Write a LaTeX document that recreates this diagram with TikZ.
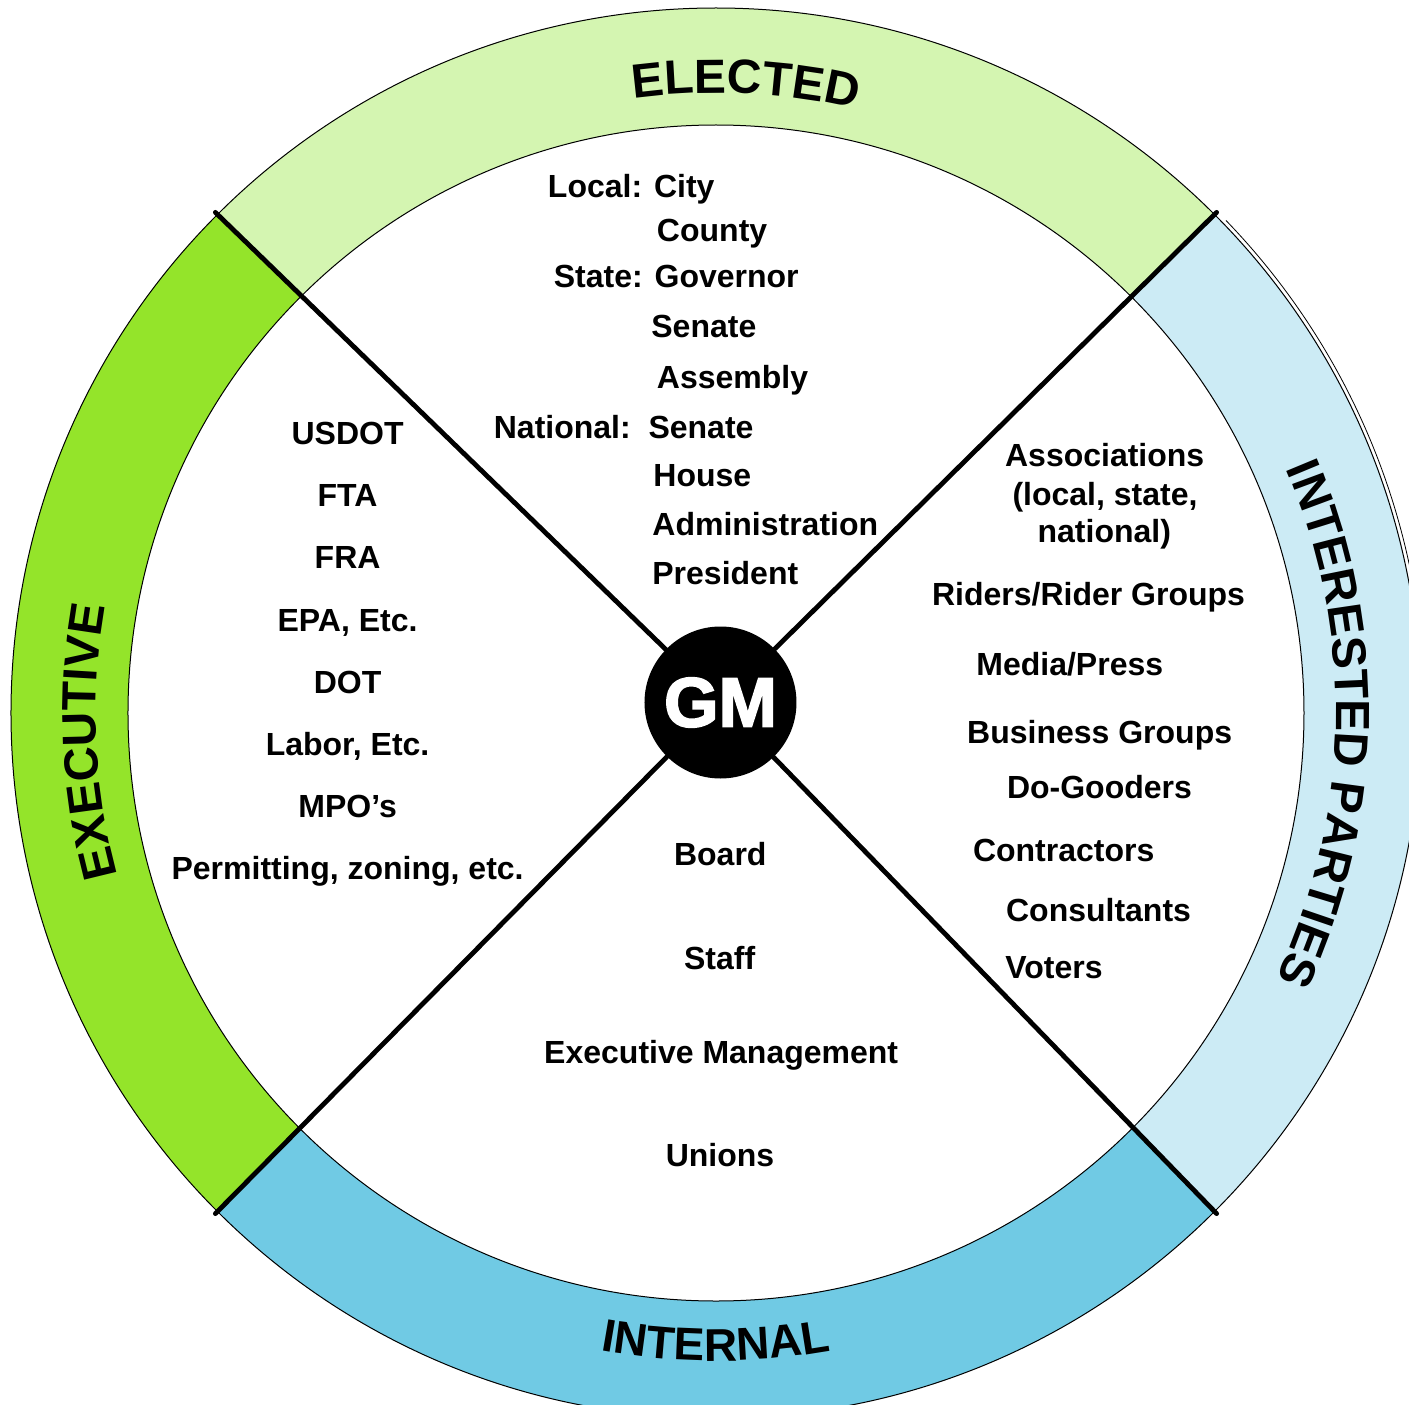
\documentclass[tikz,border=0pt]{standalone}
\usepackage{fontspec}
\setmainfont{Liberation Sans}
\newfontfamily\gmfont{Liberation Sans}[BoldFeatures={FakeBold=2.5}]
\usetikzlibrary{decorations.text}
\definecolor{electedc}{HTML}{D4F5B1}
\definecolor{executivec}{HTML}{94E42A}
\definecolor{internalc}{HTML}{70CAE4}
\definecolor{interestc}{HTML}{CCEBF5}
\newcommand{\bandfont}{\fontsize{24}{24}\selectfont\bfseries}
\newcommand{\bandfontb}{\fontsize{23}{23}\selectfont\bfseries}
\tikzset{
  lbl/.style={font=\fontsize{16}{18.5}\selectfont\bfseries, inner sep=0pt},
  ringline/.style={draw=black, line width=0.5pt},
  spoke/.style={line width=2.4pt, line cap=round},
  bandtext/.style={decorate, decoration={text along path, text align=center, text={#1}}},
}
\begin{document}
\begin{tikzpicture}[x=0.5pt,y=0.5pt]
\useasboundingbox (-716,-691) rectangle (693,713);
\clip (-716,-691) rectangle (693,713);
% bands
\fill[electedc] (45:705) arc[start angle=45,end angle=135,radius=705] -- (135:588) arc[start angle=135,end angle=45,radius=588] -- cycle;
\fill[executivec] (135:705) arc[start angle=135,end angle=225,radius=705] -- (225:588) arc[start angle=225,end angle=135,radius=588] -- cycle;
\fill[internalc] (225:705) arc[start angle=225,end angle=315,radius=705] -- (315:588) arc[start angle=315,end angle=225,radius=588] -- cycle;
\fill[interestc] (-45:705) arc[start angle=-45,end angle=45,radius=705] -- (45:588) arc[start angle=45,end angle=-45,radius=588] -- cycle;
\draw[ringline] (0,0) circle[radius=705];
\draw[ringline] (0,0) circle[radius=588];
\draw[line width=0.4pt] (44:709) arc[start angle=44,end angle=2,radius=709];
% band labels
\path[bandtext={|\bandfont|ELECTED}] (110:620) arc[start angle=110,end angle=64.6,radius=620];
\path[bandtext={|\bandfont|EXECUTIVE}] (207:620) arc[start angle=207,end angle=158.2,radius=620];
\path[bandtext={|\bandfont|INTERESTED PARTIES}] (44:620) arc[start angle=44,end angle=-46.2,radius=620];
\path[bandtext={|\bandfontb|INTERNAL}] (245:648) arc[start angle=245,end angle=295,radius=648];
% centre
\node[circle, fill=black, minimum size=76pt, inner sep=0pt, text=white,
      font=\gmfont\fontsize{35}{35}\selectfont\bfseries] (gm) at (4.5,10.5) {GM};
\coordinate (tl) at (135:708);
\coordinate (tr) at (45:708);
\coordinate (bl) at (225:708);
\coordinate (br) at (-45:708);
\draw[spoke] (gm) -- (tl);
\draw[spoke] (gm) -- (tr);
\draw[spoke] (gm) -- (bl);
\draw[spoke] (gm) -- (br);
% elected
\node[lbl, anchor=base west] (e1) at (-168.4,515.6) {Local: City};
\node[lbl, anchor=base west] (e2) at (-59.4,471) {County};
\node[lbl, anchor=base west] (e3) at (-162.5,425) {State: Governor};
\node[lbl, anchor=base west] (e4) at (-65,375) {Senate};
\node[lbl, anchor=base west] (e5) at (-59.4,325) {Assembly};
\node[lbl, anchor=base west] (e6) at (-222.5,274.5) {National:\ \ Senate};
\node[lbl, anchor=base west] (e7) at (-63,226.3) {House};
\node[lbl, anchor=base west] (e8) at (-64,178) {Administration};
\node[lbl, anchor=base west] (e9) at (-64,129) {President};
% executive
\node[lbl, anchor=base] (x1) at (-368.4,269) {USDOT};
\node[lbl, anchor=base] (x2) at (-368.4,207) {FTA};
\node[lbl, anchor=base] (x3) at (-368.4,145) {FRA};
\node[lbl, anchor=base] (x4) at (-368.4,82) {EPA, Etc.};
\node[lbl, anchor=base] (x5) at (-368.4,20) {DOT};
\node[lbl, anchor=base] (x6) at (-368.4,-42.5) {Labor, Etc.};
\node[lbl, anchor=base] (x7) at (-368.4,-104) {MPO’s};
\node[lbl, anchor=base] (x8) at (-368.4,-166.7) {Permitting, zoning, etc.};
% interested parties
\node[lbl, anchor=base] (p1a) at (388.7,246.3) {Associations};
\node[lbl, anchor=base] (p1b) at (389,208) {(local, state,};
\node[lbl, anchor=base] (p1c) at (388.3,170.3) {national)};
\node[lbl, anchor=base west] (p2) at (215.7,108) {Riders/Rider Groups};
\node[lbl, anchor=base west] (p3) at (260,38) {Media/Press};
\node[lbl, anchor=base west] (p4) at (250.8,-30) {Business Groups};
\node[lbl, anchor=base west] (p5) at (290.6,-85.6) {Do-Gooders};
\node[lbl, anchor=base west] (p6) at (256.6,-148.4) {Contractors};
\node[lbl, anchor=base west] (p7) at (289.7,-208.6) {Consultants};
\node[lbl, anchor=base west] (p8) at (289,-265) {Voters};
% internal
\node[lbl, anchor=base] (i1) at (4.3,-152.7) {Board};
\node[lbl, anchor=base] (i2) at (3.7,-256) {Staff};
\node[lbl, anchor=base] (i3) at (5.2,-350.3) {Executive Management};
\node[lbl, anchor=base] (i4) at (4,-453.7) {Unions};
\end{tikzpicture}
\end{document}
